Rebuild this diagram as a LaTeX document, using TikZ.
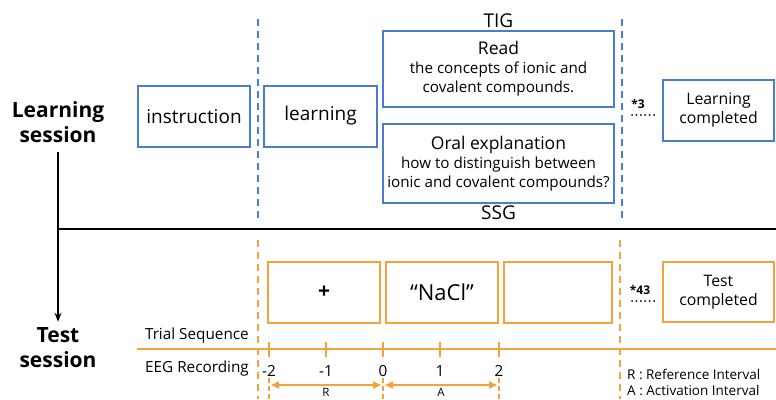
\documentclass[tikz,border=0pt]{standalone}
\usepackage{fontspec}
\setmainfont{Open Sans}
\definecolor{boxblue}{RGB}{74, 126, 205}
\definecolor{seqorange}{RGB}{245, 162, 58}
\usetikzlibrary{arrows.meta, positioning, calc}

\newcommand{\fsz}[2]{\fontsize{#1}{#2}\selectfont}

\begin{document}
\begin{tikzpicture}[
  x=1pt, y=-1pt,
  bluebox/.style={draw=boxblue, line width=2pt, inner sep=0pt, align=center, font=\fsz{19}{21}},
  orbox/.style={draw=seqorange, line width=2pt, inner sep=0pt, align=center, font=\fsz{19}{21}},
  session/.style={font=\bfseries\fsz{21}{25}, align=center, inner sep=2pt},
  phase/.style={dash pattern=on 7pt off 5pt, line width=1.6pt},
  smalltxt/.style={font=\fsz{15.3}{17}, inner sep=1pt},
  reps/.style={font=\bfseries\fsz{12}{14}, inner sep=0pt},
  dots/.style={line width=2pt, line cap=round, dash pattern=on 0pt off 4.4pt},
]
  \useasboundingbox (0,0) rectangle (776,399);

  \node[session] (ls) at (58,122) {Learning\\session};
  \node[session] (ts) at (58,348) {Test\\session};
  \draw[line width=1.3pt, -{Stealth[length=9pt, width=7pt]}, shorten <=7pt, shorten >=4pt] (ls) -- (ts);
  \coordinate (join) at (58,229);
  \coordinate (edge) at (776,229);
  \draw[line width=1.3pt] (join) -- (edge);

  \node[bluebox, minimum width=112pt, minimum height=61pt] (instr) at (194,116.5) {instruction};
  \node[bluebox, minimum width=113pt, minimum height=61pt] (learn) at (320.5,116) {learning};
  \node[bluebox, minimum width=231pt, minimum height=76pt, font=\fsz{15.2}{19}] (read) at (498.5,69)
    {{\fsz{17.5}{19}Read}\\the concepts of ionic and\\covalent compounds.};
  \node[bluebox, minimum width=231pt, minimum height=79pt, font=\fsz{15.2}{19}] (oral) at (498.5,163.5)
    {{\fsz{17.5}{19}Oral explanation}\\how to distinguish between\\ionic and covalent compounds?};
  \node[font=\fsz{19}{21}, above=1pt of read, inner sep=1pt] (tig) {TIG};
  \node[font=\fsz{19}{21}, below=1pt of oral, inner sep=1pt] (ssg) {SSG};
  \node[bluebox, minimum width=111pt, minimum height=61pt, font=\fsz{15.8}{19}] (lc) at (718.5,110.5) {Learning\\completed};

  \coordinate (bl1) at (258,19);
  \coordinate (bl2) at (258,221);
  \coordinate (br1) at (622,19);
  \coordinate (br2) at (622,221);
  \draw[phase, boxblue] (bl1) -- (bl2);
  \draw[phase, boxblue] (br1) -- (br2);
  \node[reps] (r3) at (638,104) {*3};
  \coordinate (d3) at (632,115);
  \draw[dots] (d3) -- ([xshift=-4pt]lc.west |- d3);

  \node[orbox, minimum width=112pt, minimum height=61pt, font=\bfseries\fsz{21}{21}] (fix) at (324,292.5) {+};
  \node[orbox, minimum width=112pt, minimum height=61pt, font=\fsz{22}{22}] (word) at (442,292.5) {``NaCl''};
  \node[orbox, minimum width=108pt, minimum height=61pt] (blank) at (558,292.5) {};
  \node[orbox, minimum width=111pt, minimum height=60pt, font=\fsz{15.8}{19}] (tc) at (718.5,292) {Test\\completed};

  \coordinate (ol1) at (258,240);
  \coordinate (ol2) at (258,399);
  \coordinate (or1) at (620,240);
  \coordinate (or2) at (620,399);
  \draw[phase, seqorange] (ol1) -- (ol2);
  \draw[phase, seqorange] (or1) -- (or2);
  \node[reps] (r43) at (640,290) {*43};
  \coordinate (d43) at (632,301);
  \draw[dots] (d43) -- ([xshift=-4pt]tc.west |- d43);

  \node[smalltxt, anchor=east] (trial) at (250,336) {Trial Sequence};
  \node[smalltxt, anchor=east] (eeg) at (250,369) {EEG Recording};
  \coordinate (tl1) at (137,349);
  \coordinate (tl2) at (776,349);
  \draw[seqorange, line width=1.6pt] (tl1) -- (tl2);

  \foreach \xx/\lab [count=\i] in {269/-2, 326/-1, 383/0, 440/1, 499/2} {
    \draw[seqorange, line width=1.6pt] (\xx,342) -- (\xx,357);
    \node[smalltxt] (t\i) at (\xx,371) {\lab};
  }
  \foreach \xx in {269, 383, 499}
    \draw[seqorange, line width=1.4pt, dash pattern=on 5pt off 3pt] (\xx,378) -- (\xx,399);

  \coordinate (rl) at (271,385);
  \coordinate (rr) at (381,385);
  \coordinate (al) at (385,385);
  \coordinate (ar) at (497,385);
  \draw[seqorange, line width=1.6pt, {Triangle[length=8pt, width=7pt]}-{Triangle[length=8pt, width=7pt]}] (rl) -- (rr);
  \draw[seqorange, line width=1.6pt, {Triangle[length=8pt, width=7pt]}-{Triangle[length=8pt, width=7pt]}] (al) -- (ar);
  \node[font=\fsz{11.5}{12}, inner sep=0pt, text depth=0pt, anchor=north] (rlab) at ($(rl)!0.5!(rr)+(0,3)$) {R};
  \node[font=\fsz{11.5}{12}, inner sep=0pt, text depth=0pt, anchor=north] (alab) at ($(al)!0.5!(ar)+(0,3)$) {A};

  \node[font=\fsz{13.5}{16}, anchor=west, inner sep=0pt] (leg1) at (627,374) {R : Reference Interval};
  \node[font=\fsz{13.5}{16}, anchor=west, inner sep=0pt] (leg2) at (627,390) {A : Activation Interval};
\end{tikzpicture}
\end{document}
